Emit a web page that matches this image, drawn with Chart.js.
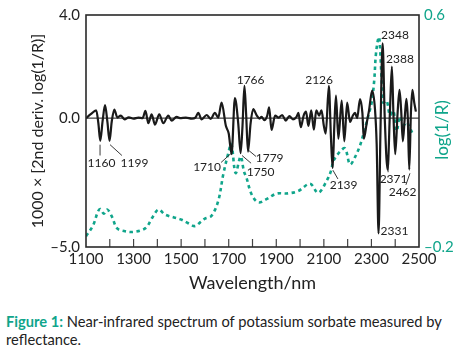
<!DOCTYPE html>
<html>
<head>
<meta charset="utf-8">
<script src="https://cdn.jsdelivr.net/npm/chart.js@4.4.0/dist/chart.umd.min.js"></script>
<style>
    body { margin: 0; background: #fff; }
    #wrap { position: relative; width: 465px; height: 300px; }
    #caption {
        position: absolute; left: 6px; top: 313px;
        font-family: Lato, sans-serif; font-size: 14.7px; line-height: 17.5px; color: #222;
    }
    #caption b { color: #10a58b; }
</style>
</head>
<body>
<div id="wrap"><canvas id="nir_chart" width="465" height="300"></canvas></div>
<div id="caption"><b>Figure 1:</b> Near-infrared spectrum of potassium sorbate measured by<br>reflectance.</div>
<script>
/* global Chart */

// 2nd derivative (left axis)
const derivNm = [
    1100, 1120, 1143, 1152, 1160, 1170, 1180, 1190, 1199, 1208,
    1219, 1232, 1246, 1262, 1280, 1300, 1320, 1338, 1350, 1362,
    1376, 1390, 1408, 1425, 1446, 1460, 1481, 1495, 1520, 1545,
    1560, 1572, 1586, 1607, 1624, 1642, 1656, 1670, 1688, 1700,
    1712, 1726, 1740, 1750, 1758, 1766, 1773, 1781, 1792, 1803,
    1817, 1830, 1838, 1850, 1862, 1870, 1880, 1895, 1910, 1925,
    1940, 1955, 1970, 1985, 1993, 2003, 2015, 2025, 2035, 2047,
    2058, 2068, 2080, 2090, 2100, 2108, 2121, 2130, 2137, 2144,
    2151, 2161, 2175, 2186, 2198, 2210, 2222, 2231, 2240, 2252,
    2262, 2268, 2280, 2290, 2303, 2315, 2322, 2330, 2338, 2347,
    2356, 2368, 2378, 2386, 2393, 2400, 2410, 2418, 2425, 2432,
    2440, 2447, 2453, 2459, 2466, 2472, 2480, 2487
];
const derivVal = [
    0, 0.15, 0.3, -0.2, -0.88, -0.1, 0.5, -0.15, -0.88, -0.15,
    0.33, 0.02, 0.1, -0.05, 0.03, -0.02, 0.02, 0, 0.28, -0.2,
    0.15, -0.25, 0.15, -0.2, 0.1, -0.1, 0.05, 0, 0.02, -0.02,
    0.02, 0.2, -0.05, 0.12, -0.03, 0.2, 0.02, 0.6, -0.3, -0.6,
    -1.4, 0.78, -0.2, -1.36, -0.3, 1.25, 0.2, -1.3, -0.2, 0.35,
    0.12, -0.02, 0.05, -0.08, 0.1, 0.42, -0.46, 0.1, 0.02, 0.12,
    -0.1, 0.08, -0.05, 0.05, 0.2, -0.35, 0.1, 0.25, -0.3, 0.3,
    -0.45, 0.3, 0.1, 0.3, -0.3, -0.6, 1.25, -0.8, -1.93, -0.3,
    0.87, -0.8, 0.68, -0.9, 0.6, -0.15, 0.1, 0.2, 0.0, 0.74,
    0.2, -0.8, -0.2, 0.3, 1.07, 0.34, -1.0, -4.47, -0.5, 2.9,
    0.0, -2.0, 0.3, 2.0, 0.0, -1.4, 0.2, 1.1, 0.3, -0.9,
    0.0, 0.75, 0.0, -2.0, 0.2, 1.1, 0.6, 0.25
];

// log(1/R) (right axis)
const logNm = [
    1100, 1130, 1150, 1160, 1175, 1190, 1210, 1230, 1260, 1300,
    1350, 1380, 1405, 1432, 1470, 1502, 1530, 1558, 1580, 1600,
    1628, 1656, 1677, 1698, 1711, 1729, 1750, 1764, 1775, 1796,
    1824, 1859, 1901, 1950, 1992, 2042, 2076, 2111, 2132, 2139,
    2168, 2189, 2210, 2231, 2252, 2270, 2287, 2301, 2312, 2318,
    2327, 2333, 2343, 2350, 2364, 2378, 2392, 2406, 2420, 2435,
    2448, 2462, 2476
];
const logVal = [
    -0.163, -0.125, -0.078, -0.069, -0.085, -0.071, -0.097, -0.135, -0.145, -0.148,
    -0.135, -0.097, -0.071, -0.088, -0.098, -0.106, -0.118, -0.128, -0.115, -0.102,
    -0.092, -0.041, 0.05, 0.123, 0.155, 0.055, 0.112, 0.061, 0.038, -0.018,
    -0.046, -0.035, -0.016, -0.015, -0.007, 0.018, -0.013, 0.027, 0.067, 0.095,
    0.129, 0.14, 0.085, 0.11, 0.15, 0.2, 0.253, 0.298, 0.377, 0.457,
    0.513, 0.524, 0.377, 0.298, 0.304, 0.254, 0.27, 0.2, 0.25, 0.22,
    0.23, 0.21, 0.185
];

const leftTicks = [-5, 0, 4];
const rightTicks = [-0.2, 0.6];

// peak labels, placed in data units
const annoText = ['1160', '1199', '1710', '1779', '1750', '1766', '2126', '2139', '2348', '2388', '2371', '2462', '2331'];
const annoX = [1165, 1304, 1609, 1872, 1834, 1792, 2080, 2183, 2399, 2420, 2393, 2431, 2397];
const annoY = [-1.75, -1.75, -1.91, -1.56, -2.10, 1.49, 1.49, -2.59, 3.20, 2.29, -2.36, -2.86, -4.39];
const leaders = [
    [1159, -1.03, 1159, -1.45],
    [1201, -1.03, 1251, -1.45],
    [1710, -1.37, 1668, -1.72],
    [1785, -1.26, 1815, -1.49],
    [1756, -1.45, 1794, -1.75],
    [2138, -2.02, 2159, -2.36],
    [2370, -1.68, 2370, -2.10],
    [2462, -2.14, 2445, -2.59]
];

var teal = '#10a58b';
var fontFam = 'Lato, sans-serif';

function dash(v) {
    return v.toFixed(1).replace('-', '\u2013');
}

var framePlugin = {
    id: 'frame',
    beforeDatasetsDraw: function (chart) {
        var ctx = chart.ctx, a = chart.chartArea;
        var y0 = chart.scales.y.getPixelForValue(0);
        ctx.save();
        ctx.strokeStyle = '#111';
        ctx.lineWidth = 1;
        ctx.beginPath();
        ctx.moveTo(a.left, y0);
        ctx.lineTo(a.right, y0);
        ctx.stroke();
        ctx.restore();
    },
    afterDatasetsDraw: function (chart) {
        var ctx = chart.ctx, a = chart.chartArea;
        var xs = chart.scales.x, ys = chart.scales.y;
        ctx.save();
        // inward tick marks on the x axis
        ctx.strokeStyle = '#444';
        ctx.lineWidth = 1.2;
        xs.ticks.forEach(function (t) {
            var px = xs.getPixelForValue(t.value);
            if (px <= a.left + 1 || px >= a.right - 1) return;
            ctx.beginPath();
            ctx.moveTo(px, a.bottom);
            ctx.lineTo(px, a.bottom - 8);
            ctx.stroke();
        });
        ctx.strokeStyle = '#2a2a2a';
        ctx.lineWidth = 1.6;
        ctx.strokeRect(a.left, a.top, a.right - a.left, a.bottom - a.top);

        ctx.strokeStyle = '#222';
        ctx.lineWidth = 0.9;
        leaders.forEach(function (l) {
            ctx.beginPath();
            ctx.moveTo(xs.getPixelForValue(l[0]), ys.getPixelForValue(l[1]));
            ctx.lineTo(xs.getPixelForValue(l[2]), ys.getPixelForValue(l[3]));
            ctx.stroke();
        });
        ctx.fillStyle = '#222';
        ctx.font = '12px ' + fontFam;
        ctx.textAlign = 'center';
        ctx.textBaseline = 'middle';
        for (var i = 0; i < annoText.length; i++) {
            ctx.fillText(annoText[i], xs.getPixelForValue(annoX[i]), ys.getPixelForValue(annoY[i]));
        }

        // right axis title reads bottom to top, like the left one
        var r = chart.scales.y1;
        ctx.translate(r.right - 22, (a.top + a.bottom) / 2 - 1);
        ctx.rotate(-Math.PI / 2);
        ctx.fillStyle = teal;
        ctx.font = '17px ' + fontFam;
        ctx.fillText('log(1/R)', 0, 0);
        ctx.restore();
    }
};

var config = {
    type: 'line',
    data: {
        datasets: [{
                label: '2nd derivative',
                data: derivNm.map(function (x, i) { return {x: x, y: derivVal[i]}; }),
                yAxisID: 'y',
                borderColor: '#1a1a1a',
                borderWidth: 2.2,
                pointRadius: 0,
                cubicInterpolationMode: 'monotone'
            }, {
                label: 'log(1/R)',
                data: logNm.map(function (x, i) { return {x: x, y: logVal[i]}; }),
                yAxisID: 'y1',
                borderColor: teal,
                borderWidth: 2.6,
                borderDash: [3.5, 3.5],
                pointRadius: 0,
                tension: 0.35
            }]
    },
    options: {
        responsive: false,
        animation: false,
        layout: {padding: {top: 11, left: 0, right: 0, bottom: 0}},
        plugins: {legend: {display: false}, tooltip: {enabled: false}},
        scales: {
            x: {
                type: 'linear',
                min: 1100,
                max: 2500,
                grid: {display: false, drawTicks: false},
                border: {display: false},
                afterFit: function (s) { s.height = 53; },
                ticks: {
                    stepSize: 100,
                    autoSkip: false,
                    maxRotation: 0,
                    padding: 3,
                    color: '#222',
                    font: {family: fontFam, size: 15},
                    callback: function (v) { return (v - 1100) % 200 === 0 ? String(v) : ''; }
                },
                title: {
                    display: true,
                    text: 'Wavelength/nm',
                    color: '#222',
                    font: {family: fontFam, size: 18},
                    padding: {top: 0, bottom: 6}
                }
            },
            y: {
                position: 'left',
                min: -5,
                max: 4,
                grid: {display: false, drawTicks: false},
                border: {display: false},
                afterFit: function (s) { s.width = 86; },
                afterBuildTicks: function (s) { s.ticks = leftTicks.map(function (v) { return {value: v}; }); },
                ticks: {
                    padding: 6,
                    color: '#222',
                    font: {family: fontFam, size: 15},
                    callback: function (v) { return dash(v); }
                },
                title: {
                    display: true,
                    text: '1000 \u00d7 [2nd deriv. log(1/R)]',
                    color: '#222',
                    font: {family: fontFam, size: 16},
                    padding: {top: 28, bottom: 0}
                }
            },
            y1: {
                position: 'right',
                min: -0.2,
                max: 0.6,
                grid: {display: false, drawTicks: false},
                border: {display: false},
                afterFit: function (s) { s.width = 46; },
                afterBuildTicks: function (s) { s.ticks = rightTicks.map(function (v) { return {value: v}; }); },
                ticks: {
                    padding: 5,
                    color: teal,
                    font: {family: fontFam, size: 15},
                    callback: function (v) { return dash(v); }
                }
            }
        }
    },
    plugins: [framePlugin]
};

var nirChart = new Chart(document.getElementById('nir_chart'), config);
</script>
</body>
</html>
